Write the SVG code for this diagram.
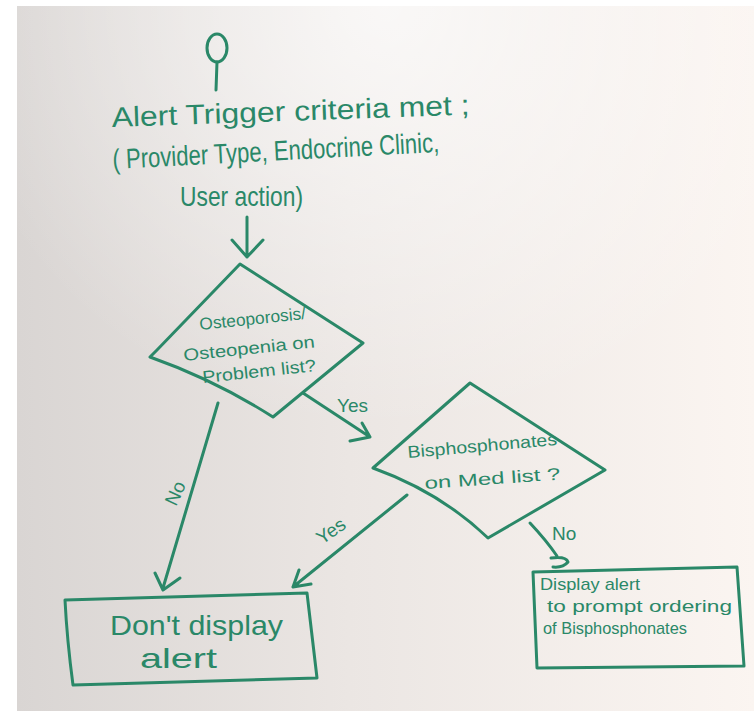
<svg xmlns="http://www.w3.org/2000/svg" width="754" height="711" viewBox="0 0 754 711">
  <defs>
    <linearGradient id="board" x1="0" y1="0" x2="1" y2="0">
      <stop offset="0" stop-color="#d9d5d3"/>
      <stop offset="0.45" stop-color="#ebe6e3"/>
      <stop offset="1" stop-color="#fbf5f1"/>
    </linearGradient>
    <radialGradient id="glare" cx="0.5" cy="0" r="0.6">
      <stop offset="0" stop-color="#ffffff" stop-opacity="0.7"/>
      <stop offset="1" stop-color="#ffffff" stop-opacity="0"/>
    </radialGradient>
    <style>
      .ink { fill: none; stroke: #2a8868; stroke-width: 3; stroke-linecap: round; stroke-linejoin: round; }
      .txt { fill: #2a8868; font-family: "Liberation Sans", "DejaVu Sans", sans-serif; }
      .lg { font-size: 28px; }
      .md { font-size: 17px; }
      .lb { font-size: 19px; }
    </style>
  </defs>

  <!-- page and whiteboard -->
  <rect width="754" height="711" fill="#ffffff"/>
  <rect x="17" y="6" width="737" height="705" fill="url(#board)"/>
  <rect x="17" y="6" width="737" height="705" fill="url(#glare)"/>

  <!-- start terminal -->
  <g id="start">
    <ellipse class="ink" cx="217" cy="48" rx="10" ry="14"/>
    <path class="ink" d="M217 62 L216 90"/>
  </g>

  <!-- trigger criteria -->
  <g id="trigger">
    <text class="txt lg" x="112" y="127" textLength="358" lengthAdjust="spacingAndGlyphs" transform="rotate(-2 112 127)">Alert Trigger criteria met ;</text>
    <text class="txt lg" x="113" y="169" textLength="327" lengthAdjust="spacingAndGlyphs" transform="rotate(-3 113 169)">( Provider Type, Endocrine Clinic,</text>
    <text class="txt lg" x="180" y="206" textLength="123" lengthAdjust="spacingAndGlyphs">User action)</text>
  </g>

  <!-- decision 1 -->
  <g id="decision-problem-list">
    <path class="ink" d="M240 264 L363 343 L273 417 Q215 380 150 357 L157 350 Z"/>
    <text class="txt md" x="200" y="330" textLength="107" lengthAdjust="spacingAndGlyphs" transform="rotate(-6 200 330)">Osteoporosis/</text>
    <text class="txt md" x="184" y="361" textLength="132" lengthAdjust="spacingAndGlyphs" transform="rotate(-6 184 361)">Osteopenia on</text>
    <text class="txt md" x="203" y="383" textLength="114" lengthAdjust="spacingAndGlyphs" transform="rotate(-6 203 383)">Problem list?</text>
  </g>

  <!-- decision 2 -->
  <g id="decision-med-list">
    <path class="ink" d="M470 383 L605 470 L488 538 Q440 492 373 468 Z"/>
    <text class="txt md" x="408" y="458" textLength="150" lengthAdjust="spacingAndGlyphs" transform="rotate(-5 408 458)">Bisphosphonates</text>
    <text class="txt md" x="425" y="489" textLength="136" lengthAdjust="spacingAndGlyphs" transform="rotate(-4 425 489)">on Med list ?</text>
  </g>

  <!-- outcome: no alert -->
  <g id="no-alert">
    <path class="ink" d="M65 600 L307 593 L317 678 L73 685 Q67 640 65 600 Z"/>
    <text class="txt lg" x="110" y="635" textLength="173" lengthAdjust="spacingAndGlyphs">Don't display</text>
    <text class="txt lg" x="140" y="668" textLength="77" lengthAdjust="spacingAndGlyphs">alert</text>
  </g>

  <!-- outcome: show alert -->
  <g id="show-alert">
    <path class="ink" d="M533 572 L737 567 L744 666 L537 668 Z"/>
    <text class="txt md" x="540" y="590" textLength="100" lengthAdjust="spacingAndGlyphs">Display alert</text>
    <text class="txt md" x="547" y="612" textLength="185" lengthAdjust="spacingAndGlyphs">to prompt ordering</text>
    <text class="txt md" x="543" y="634" textLength="144" lengthAdjust="spacingAndGlyphs">of Bisphosphonates</text>
  </g>

  <!-- connectors -->
  <g id="connectors">
    <path class="ink" d="M247 217 L247 257 M232 240 L247 257 L263 240"/>
    <path class="ink" d="M303 393 L370 437 M350 441 L370 437 L362 423"/>
    <text class="txt lb" x="337" y="412">Yes</text>
    <path class="ink" d="M218 403 L163 588 M155 573 L163 590 L180 578"/>
    <text class="txt lb" x="176" y="507" transform="rotate(-65 176 507)">No</text>
    <path class="ink" d="M407 495 L293 587 M311 584 L293 587 L299 570"/>
    <text class="txt lb" x="322" y="545" transform="rotate(-35 322 545)">Yes</text>
    <path class="ink" d="M530 523 Q546 540 557 556 M551 558 Q566 556 568 562 Q563 568 553 567"/>
    <text class="txt lb" x="552" y="540">No</text>
  </g>
</svg>
